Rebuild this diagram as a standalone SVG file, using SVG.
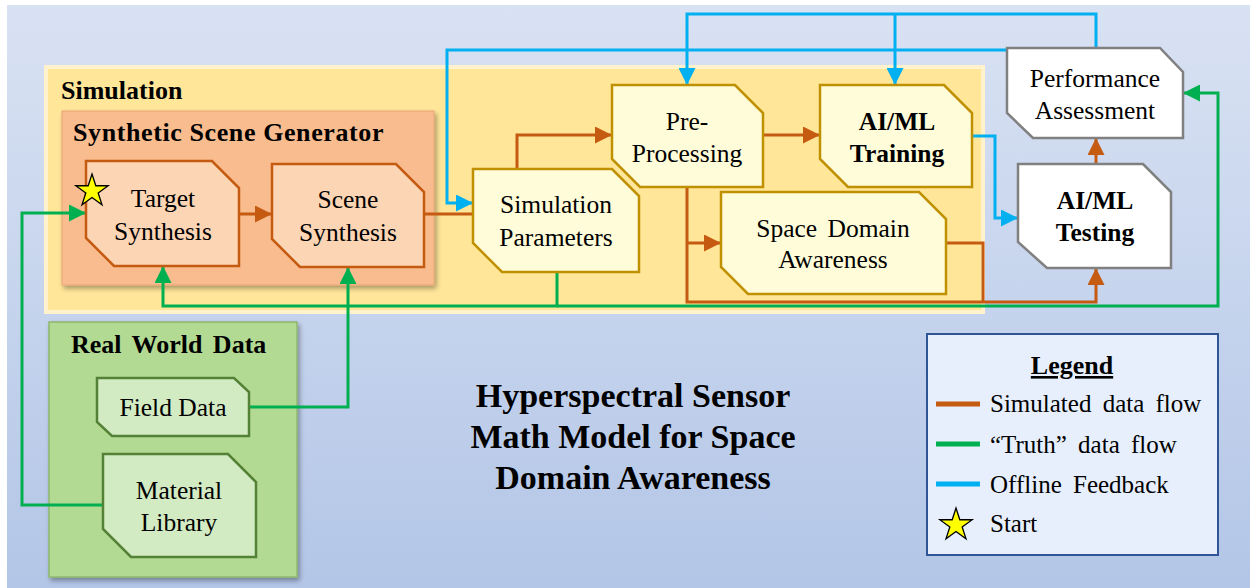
<svg xmlns="http://www.w3.org/2000/svg" xmlns:xlink="http://www.w3.org/1999/xlink" width="1250" height="588" viewBox="0 0 1250 588">
<defs>
<linearGradient id="bg" x1="0" y1="0" x2="0" y2="1">
<stop offset="0" stop-color="#d9e2f3"/>
<stop offset="1" stop-color="#b3c6e7"/>
</linearGradient>
<filter id="shadow" x="-10%" y="-10%" width="125%" height="125%">
<feDropShadow dx="2" dy="3" stdDeviation="2.5" flood-color="#000" flood-opacity="0.35"/>
</filter>
<marker id="ao" viewBox="0 0 10 10" refX="10" refY="5" markerWidth="17" markerHeight="17" markerUnits="userSpaceOnUse" orient="auto">
<path d="M0,0 L10,5 L0,10 Z" fill="#c55a11"/>
</marker>
<marker id="ag" viewBox="0 0 10 10" refX="10" refY="5" markerWidth="17" markerHeight="17" markerUnits="userSpaceOnUse" orient="auto">
<path d="M0,0 L10,5 L0,10 Z" fill="#00b050"/>
</marker>
<marker id="ab" viewBox="0 0 10 10" refX="10" refY="5" markerWidth="17" markerHeight="17" markerUnits="userSpaceOnUse" orient="auto">
<path d="M0,0 L10,5 L0,10 Z" fill="#00b0f0"/>
</marker>
<polygon id="star" points="0,-17 3.82,-5.26 16.17,-5.25 6.18,2.01 9.99,13.75 0,6.5 -9.99,13.75 -6.18,2.01 -16.17,-5.25 -3.82,-5.26" fill="#ffff00" stroke="#000" stroke-width="1.3" stroke-linejoin="miter"/>
</defs>
<style>
text { font-family: "Liberation Serif", "Times New Roman", serif; fill: #000; }
.t { font-size: 25.5px; text-anchor: middle; }
.tb { font-size: 25.5px; text-anchor: middle; font-weight: bold; }
.h { font-size: 26px; font-weight: bold; }
.title { font-size: 34px; font-weight: bold; text-anchor: middle; }
.lg { font-size: 25px; word-spacing: 5px; }
.orange { stroke: #c55a11; stroke-width: 3; fill: none; }
.green { stroke: #00b050; stroke-width: 3; fill: none; }
.blue { stroke: #00b0f0; stroke-width: 3; fill: none; }
.ssnode { fill: #fcd5b4; stroke: #c55a11; stroke-width: 2.5; }
.simnode { fill: #fffcd9; stroke: #bf9000; stroke-width: 2.5; }
.evalnode { fill: #ffffff; stroke: #808080; stroke-width: 2.5; }
.rwnode { fill: #d3ebc3; stroke: #538135; stroke-width: 2.5; }
</style>

<rect x="0" y="0" width="1250" height="588" fill="#ffffff"/>
<rect x="7" y="5" width="1243" height="583" fill="url(#bg)"/>

<g id="simulation-panel">
<rect x="46" y="67" width="937" height="245" fill="#ffe699" stroke="#fff2cc" stroke-width="4"/>
<text class="h" x="61" y="99">Simulation</text>
</g>

<g id="synthetic-scene-generator">
<rect x="62" y="111" width="372" height="174" fill="#f8bc8e" stroke="#e9a474" stroke-width="1" filter="url(#shadow)"/>
<text class="h" x="73" y="141" letter-spacing="0.6">Synthetic Scene Generator</text>
</g>

<g id="real-world-data">
<rect x="49" y="322" width="248" height="255" fill="#b3da93" stroke="#8db86d" stroke-width="1.5" filter="url(#shadow)"/>
<text class="h" x="71" y="353" word-spacing="4">Real World Data</text>
</g>

<g id="connectors">
<path class="orange" d="M239,214 H272" marker-end="url(#ao)"/>
<path class="orange" d="M424,214 H473"/>
<path class="orange" d="M517,169 V135 H612" marker-end="url(#ao)"/>
<path class="orange" d="M763,135 H820" marker-end="url(#ao)"/>
<path class="orange" d="M687,187 V302 H1096 V268" marker-end="url(#ao)"/>
<path class="orange" d="M687,243 H721" marker-end="url(#ao)"/>
<path class="orange" d="M946,243 H983 V302"/>
<path class="orange" d="M1096,164 V138" marker-end="url(#ao)"/>
<path class="green" d="M103,505 H22 V213 H86" marker-end="url(#ag)"/>
<path class="green" d="M249,407 H348 V267" marker-end="url(#ag)"/>
<path class="green" d="M557,272 V306 H163 V266" marker-end="url(#ag)"/>
<path class="green" d="M557,306 H1218 V93 H1183" marker-end="url(#ag)"/>
<path class="blue" d="M1096,48 V14 H687 V85" marker-end="url(#ab)"/>
<path class="blue" d="M895,14 V85" marker-end="url(#ab)"/>
<path class="blue" d="M1007,50 H447 V203 H473" marker-end="url(#ab)"/>
<path class="blue" d="M972,136 H995 V218 H1018" marker-end="url(#ab)"/>
</g>

<g id="target-synthesis">
<path class="ssnode" d="M86,161 H212 L239,188 V266 H114 L86,238 Z"/>
<text class="t" x="163" y="207">Target</text>
<text class="t" x="163" y="240">Synthesis</text>
<use xlink:href="#star" href="#star" transform="translate(92,191)"/>
</g>

<g id="scene-synthesis">
<path class="ssnode" d="M272,164 H396 L424,192 V267 H300 L272,239 Z"/>
<text class="t" x="348" y="208">Scene</text>
<text class="t" x="348" y="241">Synthesis</text>
</g>

<g id="simulation-parameters">
<path class="simnode" d="M473,169 H612 L639,196 V272 H502 L473,243 Z"/>
<text class="t" x="556" y="213">Simulation</text>
<text class="t" x="556" y="246">Parameters</text>
</g>

<g id="pre-processing">
<path class="simnode" d="M612,85 H735 L763,113 V187 H640 L612,159 Z"/>
<text class="t" x="687" y="130">Pre-</text>
<text class="t" x="687" y="162">Processing</text>
</g>

<g id="aiml-training">
<path class="simnode" d="M820,85 H944 L972,113 V187 H848 L820,159 Z"/>
<text class="tb" x="897" y="130">AI/ML</text>
<text class="tb" x="897" y="162">Training</text>
</g>

<g id="space-domain-awareness">
<path class="simnode" d="M721,192 H919 L946,219 V294 H748 L721,267 Z"/>
<text class="t" x="833" y="237" word-spacing="4">Space Domain</text>
<text class="t" x="833" y="268">Awareness</text>
</g>

<g id="performance-assessment">
<path class="evalnode" d="M1007,48 H1160 L1183,72 V138 H1033 L1007,113 Z"/>
<text class="t" x="1095" y="87">Performance</text>
<text class="t" x="1095" y="119">Assessment</text>
</g>

<g id="aiml-testing">
<path class="evalnode" d="M1018,164 H1143 L1171,192 V268 H1047 L1018,242 Z"/>
<text class="tb" x="1095" y="209">AI/ML</text>
<text class="tb" x="1095" y="241">Testing</text>
</g>

<g id="field-data">
<path class="rwnode" d="M97,378 H234 L249,392 V436 H112 L97,422 Z"/>
<text class="t" x="173" y="416">Field Data</text>
</g>

<g id="material-library">
<path class="rwnode" d="M103,454 H228 L256,482 V557 H131 L103,529 Z"/>
<text class="t" x="179" y="499">Material</text>
<text class="t" x="179" y="531">Library</text>
</g>

<g id="title">
<text class="title" x="633" y="407">Hyperspectral Sensor</text>
<text class="title" x="633" y="448">Math Model for Space</text>
<text class="title" x="633" y="489">Domain Awareness</text>
</g>

<g id="legend">
<rect x="927" y="334" width="291" height="221" fill="#e7effc" stroke="#2f5597" stroke-width="2"/>
<text class="h" x="1072" y="374" text-anchor="middle" text-decoration="underline">Legend</text>
<line x1="936" y1="404" x2="980" y2="404" stroke="#c55a11" stroke-width="5"/>
<line x1="936" y1="444" x2="980" y2="444" stroke="#00b050" stroke-width="5"/>
<line x1="936" y1="484" x2="980" y2="484" stroke="#00b0f0" stroke-width="5"/>
<use xlink:href="#star" href="#star" transform="translate(956,525)"/>
<text class="lg" x="990" y="412">Simulated data flow</text>
<text class="lg" x="990" y="453">“Truth” data flow</text>
<text class="lg" x="990" y="493">Offline Feedback</text>
<text class="lg" x="990" y="532">Start</text>
</g>
</svg>
